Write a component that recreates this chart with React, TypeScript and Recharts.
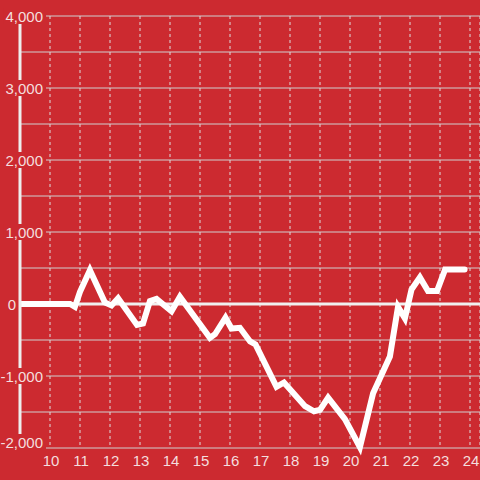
import React from "react";
import {
  LineChart,
  Line,
  XAxis,
  YAxis,
  CartesianGrid,
  ReferenceLine,
} from "recharts";

const BG = "#cc2a30";
const LABEL = "#f4dede";
const FONT = "'Liberation Sans', Arial, sans-serif";

// hours of day (x) and running value (y)
const hours = [
  9, 10.67, 10.83, 11.0, 11.33, 11.83, 12.05, 12.27, 12.9, 13.1, 13.33, 13.55,
  14.05, 14.33, 15.33, 15.5, 15.85, 16.05, 16.33, 16.67, 16.85, 17.55, 17.8,
  18.5, 18.8, 19.0, 19.27, 19.83, 20.33, 20.77, 21.33, 21.6, 21.83, 22.05,
  22.33, 22.6, 22.9, 23.17, 23.82,
];
const values = [
  0, 0, -40, 170, 470, 20, -20, 80, -290, -270, 40, 70, -100, 100, -470, -420,
  -190, -340, -330, -520, -560, -1150, -1090, -1420, -1490, -1470, -1300,
  -1600, -1990, -1240, -730, -40, -200, 200, 370, 180, 180, 480, 480,
];

const xTicks = [10, 11, 12, 13, 14, 15, 16, 17, 18, 19, 20, 21, 22, 23, 24];
const yTicks = [
  -2000, -1500, -1000, -500, 0, 500, 1000, 1500, 2000, 2500, 3000, 3500, 4000,
];

const data = hours.map((t, i) => ({ t, v: values[i] }));

const charW = (s: string) =>
  s.split("").reduce((w, c) => w + (c === "," ? 4.17 : c === "-" ? 5 : 8.34), 0);

const YTick = (props: any) => {
  const { y, payload } = props;
  const v = payload.value;
  if (v % 1000 !== 0) return <g />;
  const label = v.toLocaleString("en-US");
  const base = Math.min(y + 6, 448);
  // the zero label sits left of the axis bar, the others overlap it
  if (v === 0) {
    return (
      <text
        x={16}
        y={base}
        textAnchor="end"
        fill={LABEL}
        fontSize={15}
        fontFamily={FONT}
      >
        {label}
      </text>
    );
  }
  const w = charW(label);
  return (
    <g>
      <rect x={43 - w - 2} y={base - 14} width={w + 5} height={16} fill={BG} />
      <text
        x={43}
        y={base}
        textAnchor="end"
        fill={LABEL}
        fontSize={15}
        fontFamily={FONT}
      >
        {label}
      </text>
    </g>
  );
};

const XTick = (props: any) => {
  const { x, payload } = props;
  return (
    <text
      x={x + 1}
      y={466}
      textAnchor="middle"
      fill={LABEL}
      fontSize={15}
      fontFamily={FONT}
    >
      {payload.value}
    </text>
  );
};

export default function App() {
  return (
    <div
      style={{
        position: "absolute",
        left: 0,
        top: 0,
        width: 480,
        height: 480,
        background: BG,
      }}
    >
      <LineChart
        width={480}
        height={480}
        data={data}
        margin={{ top: 16, right: 0, bottom: 0, left: 0 }}
      >
        <CartesianGrid vertical={false} stroke="#cfcfcf" />
        <CartesianGrid
          horizontal={false}
          stroke="#dddddd"
          strokeDasharray="3 3"
        />
        <XAxis
          dataKey="t"
          type="number"
          domain={[9, 24.333]}
          ticks={xTicks}
          interval={0}
          allowDataOverflow
          axisLine={false}
          tickLine={false}
          height={32}
          tick={XTick}
        />
        <YAxis
          type="number"
          domain={[-2000, 4000]}
          ticks={yTicks}
          interval={0}
          width={20}
          tickLine={false}
          axisLine={{ stroke: "#eeeeee", strokeWidth: 3 }}
          tick={YTick}
        />
        <ReferenceLine y={0} stroke="#f0f0f0" strokeWidth={3} />
        <Line
          type="linear"
          dataKey="v"
          stroke="#ffffff"
          strokeWidth={6}
          strokeLinecap="round"
          dot={false}
          activeDot={false}
          isAnimationActive={false}
        />
      </LineChart>
    </div>
  );
}
